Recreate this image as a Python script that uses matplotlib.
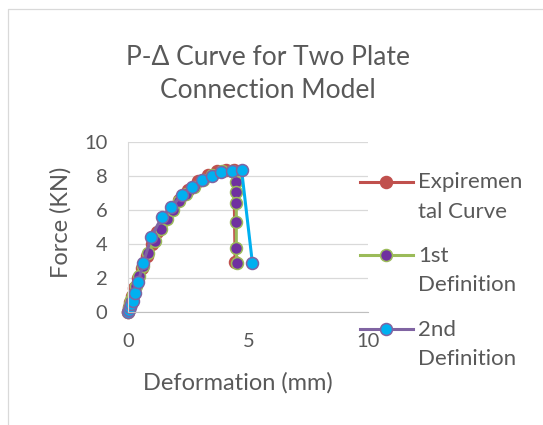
import matplotlib.pyplot as plt
from matplotlib.lines import Line2D

# Experimental curve
exp_x = [0, 0.04, 0.09, 0.15, 0.25, 0.4, 0.55, 0.77, 0.98, 1.2, 1.5, 1.8, 2.1,
         2.5, 2.92, 3.3, 3.68, 4.05, 4.4, 4.45]
exp_y = [0, 0.25, 0.55, 0.9, 1.4, 2.0, 2.6, 3.3, 4.0, 4.7, 5.4, 6.0, 6.55,
         7.15, 7.7, 8.05, 8.3, 8.35, 8.33, 2.9]

# 1st definition
def1_x = [0, 0.04, 0.08, 0.13, 0.2, 0.3, 0.45, 0.6, 0.8, 1.1, 1.36, 1.6, 1.85,
          2.11, 2.4, 2.75, 3.1, 3.5, 3.9, 4.3, 4.5, 4.5, 4.5, 4.5, 4.5, 4.52]
def1_y = [0, 0.2, 0.45, 0.7, 1.0, 1.5, 2.1, 2.7, 3.45, 4.15, 4.85, 5.45, 5.98,
          6.5, 6.9, 7.35, 7.75, 8.05, 8.25, 8.3, 7.65, 7.06, 6.38, 5.29, 3.73, 2.88]

# 2nd definition
def2_x = [0, 0.03, 0.07, 0.12, 0.18, 0.28, 0.42, 0.62, 0.96, 1.39, 1.79, 2.25,
          2.66, 3.05, 3.47, 3.87, 4.31, 4.72, 5.17]
def2_y = [0, 0.1, 0.25, 0.45, 0.65, 1.08, 1.76, 2.85, 4.4, 5.55, 6.18, 6.86,
          7.35, 7.74, 8.01, 8.2, 8.29, 8.34, 2.87]

labels = ["Expiremen\ntal Curve", "1st\nDefinition", "2nd\nDefinition"]
title = "P-Δ Curve for Two Plate\nConnection Model"

TEXT = "#595959"
CYAN = "#00B0F0"
plt.rcParams["font.family"] = ["Lato", "DejaVu Sans"]

W, H = 543, 425
fig = plt.figure(figsize=(W / 100, H / 100), dpi=100)


def fx(px):
    return px / W


def fy(py):
    return 1 - py / H


ax = fig.add_axes([fx(128.3), fy(311.7), 240 / W, 170 / H])

styles = [
    dict(color="#C0504D", mfc="#C0504D", mec="#C0504D"),
    dict(color="#9BBB59", mfc="#7030A0", mec="#9BBB59"),
    dict(color="#8064A2", mfc=CYAN, mec="#8064A2"),
]
MS, MEW, LW = 8.6, 1.1, 2.2
series = [(exp_x, exp_y), (def1_x, def1_y), (def2_x, def2_y)]
for i, ((xs, ys), st) in enumerate(zip(series, styles)):
    if i == 2:
        # the last segment of the 2nd definition is drawn in cyan
        ax.plot(xs[:-1], ys[:-1], lw=LW, color=st["color"], clip_on=False)
        ax.plot(xs[-2:], ys[-2:], lw=LW, color=CYAN, clip_on=False)
        ax.plot(xs, ys, ls="none", marker="o", ms=MS, mew=MEW,
                mfc=st["mfc"], mec=st["mec"], clip_on=False)
    else:
        ax.plot(xs, ys, marker="o", ms=MS, mew=MEW, lw=LW, clip_on=False, **st)

ax.set_xlim(0, 10)
ax.set_ylim(0, 10)
ax.set_xticks([0, 5, 10])
ax.set_yticks(range(0, 11, 2))
ax.grid(axis="y", color="#D9D9D9", lw=0.9)
ax.set_axisbelow(True)
for s in ["top", "right"]:
    ax.spines[s].set_visible(False)
ax.spines["left"].set_color("#D9D9D9")
ax.spines["bottom"].set_color("#BFBFBF")
ax.tick_params(length=0, labelsize=14.5, labelcolor=TEXT)
ax.tick_params(axis="x", pad=15)
ax.tick_params(axis="y", pad=15)

for line, py in zip(title.split("\n"), [65, 98.3]):
    fig.text(fx(268), fy(py), line, ha="center", va="baseline",
             fontsize=19, color=TEXT)
fig.text(fx(238), fy(390), "Deformation (mm)", ha="center", va="baseline",
         fontsize=17, color=TEXT)
fig.text(fx(61), fy(222), "Force (KN)", ha="center", va="center",
         rotation=90, fontsize=17, color=TEXT)

# legend keys
key_y = [181.7, 255, 329]
for st, lab, py in zip(styles, labels, key_y):
    fig.add_artist(Line2D([fx(360), fx(413)], [fy(py), fy(py)], lw=LW,
                          color=st["color"], transform=fig.transFigure))
    fig.add_artist(Line2D([fx(386)], [fy(py)], marker="o", ms=MS, mew=MEW,
                          mfc=st["mfc"], mec=st["mec"],
                          transform=fig.transFigure))
    for k, part in enumerate(lab.split("\n")):
        fig.text(fx(418), fy(py + 6.5 + 29.5 * k), part, ha="left",
                 va="baseline", fontsize=16, color=TEXT)

# chart border (left and top visible)
fig.add_artist(Line2D([fx(8.3), fx(8.3), fx(W + 5)], [0, fy(9.3), fy(9.3)],
                      color="#D9D9D9", lw=0.9, transform=fig.transFigure))

fig.savefig("out.png", dpi=100)
